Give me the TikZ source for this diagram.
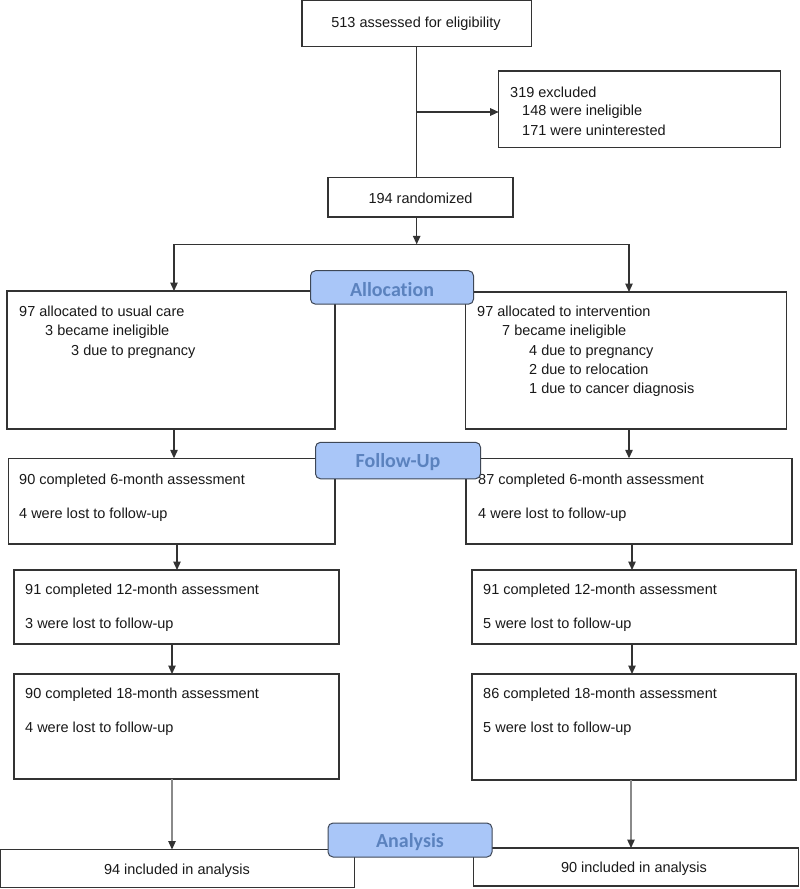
\documentclass[tikz,border=0pt]{standalone}
\usepackage{fontspec}
\setmainfont{Liberation Sans}
\newfontfamily\labfont[Ligatures=NoCommon]{Carlito}
\usetikzlibrary{arrows.meta}
\definecolor{boxline}{HTML}{333333}
\definecolor{labfill}{HTML}{A9C6F8}
\definecolor{labtext}{HTML}{5B82BE}
\definecolor{labline}{HTML}{3E4756}
\definecolor{grayline}{HTML}{8A8A8A}
\begin{document}
\begin{tikzpicture}[x=1pt,y=-1pt,
  box/.style={draw=boxline,line width=1.2pt,fill=white,inner sep=0pt,outer sep=0pt,anchor=north west},
  txt/.style={inner sep=0pt,font=\fontsize{14.5}{17}\selectfont,text=black!90},
  lab/.style={draw=labline,line width=1pt,fill=labfill,rounded corners=5pt,inner sep=0pt,outer sep=0pt,anchor=north west},
  labtxt/.style={inner sep=0pt,font=\labfont\bfseries\fontsize{20}{24}\selectfont,text=labtext},
  conn/.style={draw=boxline,line width=1.2pt},
  arr/.style={conn,-{Triangle[length=8.5pt,width=7.5pt]}},
  garr/.style={draw=grayline,line width=1.2pt,arrows={-{Triangle[length=8.5pt,width=7.5pt,color=boxline]}}}
]
\useasboundingbox (0,0) rectangle (800,889);
% column coordinates
\coordinate (mid) at (416.7,0);
\coordinate (sl) at (174,244.3);
\coordinate (sr) at (629,244.3);
\coordinate (cl2) at (177,0);
\coordinate (cr2) at (632,0);
\coordinate (cl3) at (172,0);
\coordinate (cr3) at (632,0);
\coordinate (cl4) at (172,0);
\coordinate (cr4) at (631,0);
\coordinate (exy) at (0,112);

% boxes
\node[box,minimum width=229.5pt,minimum height=46pt] (top) at (302,0.6) {};
\node[box,minimum width=281.5pt,minimum height=76.3pt] (excl) at (498.7,71) {};
\node[box,minimum width=185pt,minimum height=39.3pt] (rand) at (328,177.7) {};
\node[box,minimum width=328pt,minimum height=138pt] (ua) at (7,291) {};
\node[box,minimum width=321pt,minimum height=137pt] (ia) at (465.5,292) {};
\node[box,minimum width=326.5pt,minimum height=85.7pt] (uf) at (8.5,458.3) {};
\node[box,minimum width=326pt,minimum height=85.7pt] (if) at (466,458.3) {};
\node[box,minimum width=325pt,minimum height=74pt] (u12) at (14,570) {};
\node[box,minimum width=324pt,minimum height=74pt] (i12) at (472,570) {};
\node[box,minimum width=325pt,minimum height=105pt] (u18) at (14,674) {};
\node[box,minimum width=324pt,minimum height=106pt] (i18) at (472,674) {};
\node[box,minimum width=354pt,minimum height=38pt] (uan) at (0.6,849.5) {};
\node[box,minimum width=325pt,minimum height=38pt] (ian) at (473.5,848) {};

% texts
\node[txt,anchor=base] (t0) at (416,27) {513 assessed for eligibility};
\node[txt,anchor=base west] (t1) at (510,97) {319 excluded};
\node[txt,anchor=base west] (t2) at (522,115.5) {148 were ineligible};
\node[txt,anchor=base west] (t3) at (522,135) {171 were uninterested};
\node[txt,anchor=base] (t4) at (420.5,203) {194 randomized};

\node[txt,anchor=base west] (t5) at (19,316) {97 allocated to usual care};
\node[txt,anchor=base west] (t6) at (45,335.5) {3 became ineligible};
\node[txt,anchor=base west] (t7) at (71,355) {3 due to pregnancy};
\node[txt,anchor=base west] (t8) at (477,316) {97 allocated to intervention};
\node[txt,anchor=base west] (t9) at (502,335.5) {7 became ineligible};
\node[txt,anchor=base west] (t10) at (529,355) {4 due to pregnancy};
\node[txt,anchor=base west] (t11) at (529,374.3) {2 due to relocation};
\node[txt,anchor=base west] (t12) at (529,393.5) {1 due to cancer diagnosis};

\node[txt,anchor=base west] (t13) at (19,484) {90 completed 6-month assessment};
\node[txt,anchor=base west] (t14) at (19,518) {4 were lost to follow-up};
\node[txt,anchor=base west] (t15) at (478,484) {87 completed 6-month assessment};
\node[txt,anchor=base west] (t16) at (478,518) {4 were lost to follow-up};

\node[txt,anchor=base west] (t17) at (25,594.5) {91 completed 12-month assessment};
\node[txt,anchor=base west] (t18) at (25,628.5) {3 were lost to follow-up};
\node[txt,anchor=base west] (t19) at (483,594.5) {91 completed 12-month assessment};
\node[txt,anchor=base west] (t20) at (483,628.5) {5 were lost to follow-up};

\node[txt,anchor=base west] (t21) at (25,698.5) {90 completed 18-month assessment};
\node[txt,anchor=base west] (t22) at (25,732.5) {4 were lost to follow-up};
\node[txt,anchor=base west] (t23) at (483,698.5) {86 completed 18-month assessment};
\node[txt,anchor=base west] (t24) at (483,732.5) {5 were lost to follow-up};

\node[txt,anchor=base] (t25) at (177,874) {94 included in analysis};
\node[txt,anchor=base] (t26) at (634,872.5) {90 included in analysis};

% connectors
\draw[conn] (top.south -| mid) -- (rand.north -| mid);
\draw[arr] (exy -| mid) -- (exy -| excl.west);
\draw[arr] (rand.south -| mid) -- (sl -| mid);
\draw[conn] (sl) -- (sr);
\draw[arr] (sl) -- (ua.north -| sl);
\draw[arr] (sr) -- (ia.north -| sr);
\draw[arr] (ua.south -| sl) -- (uf.north -| sl);
\draw[arr] (ia.south -| sr) -- (if.north -| sr);
\draw[arr] (uf.south -| cl2) -- (u12.north -| cl2);
\draw[arr] (if.south -| cr2) -- (i12.north -| cr2);
\draw[arr] (u12.south -| cl3) -- (u18.north -| cl3);
\draw[arr] (i12.south -| cr3) -- (i18.north -| cr3);
\draw[garr] (u18.south -| cl4) -- (uan.north -| cl4);
\draw[garr] (i18.south -| cr4) -- (ian.north -| cr4);

% stage labels
\node[lab,minimum width=163pt,minimum height=33.5pt] (lalloc) at (310.5,270.7) {};
\node[labtxt] (lalloct) at ([yshift=-2pt]lalloc.center) {Allocation};
\node[lab,minimum width=165pt,minimum height=36.5pt] (lfol) at (315.5,442.3) {};
\node[labtxt] (lfolt) at ([yshift=-1pt]lfol.center) {Follow-Up};
\node[lab,minimum width=164pt,minimum height=34pt] (lana) at (328,823) {};
\node[labtxt] (lanat) at ([yshift=-2pt]lana.center) {Analysis};
\end{tikzpicture}
\end{document}
